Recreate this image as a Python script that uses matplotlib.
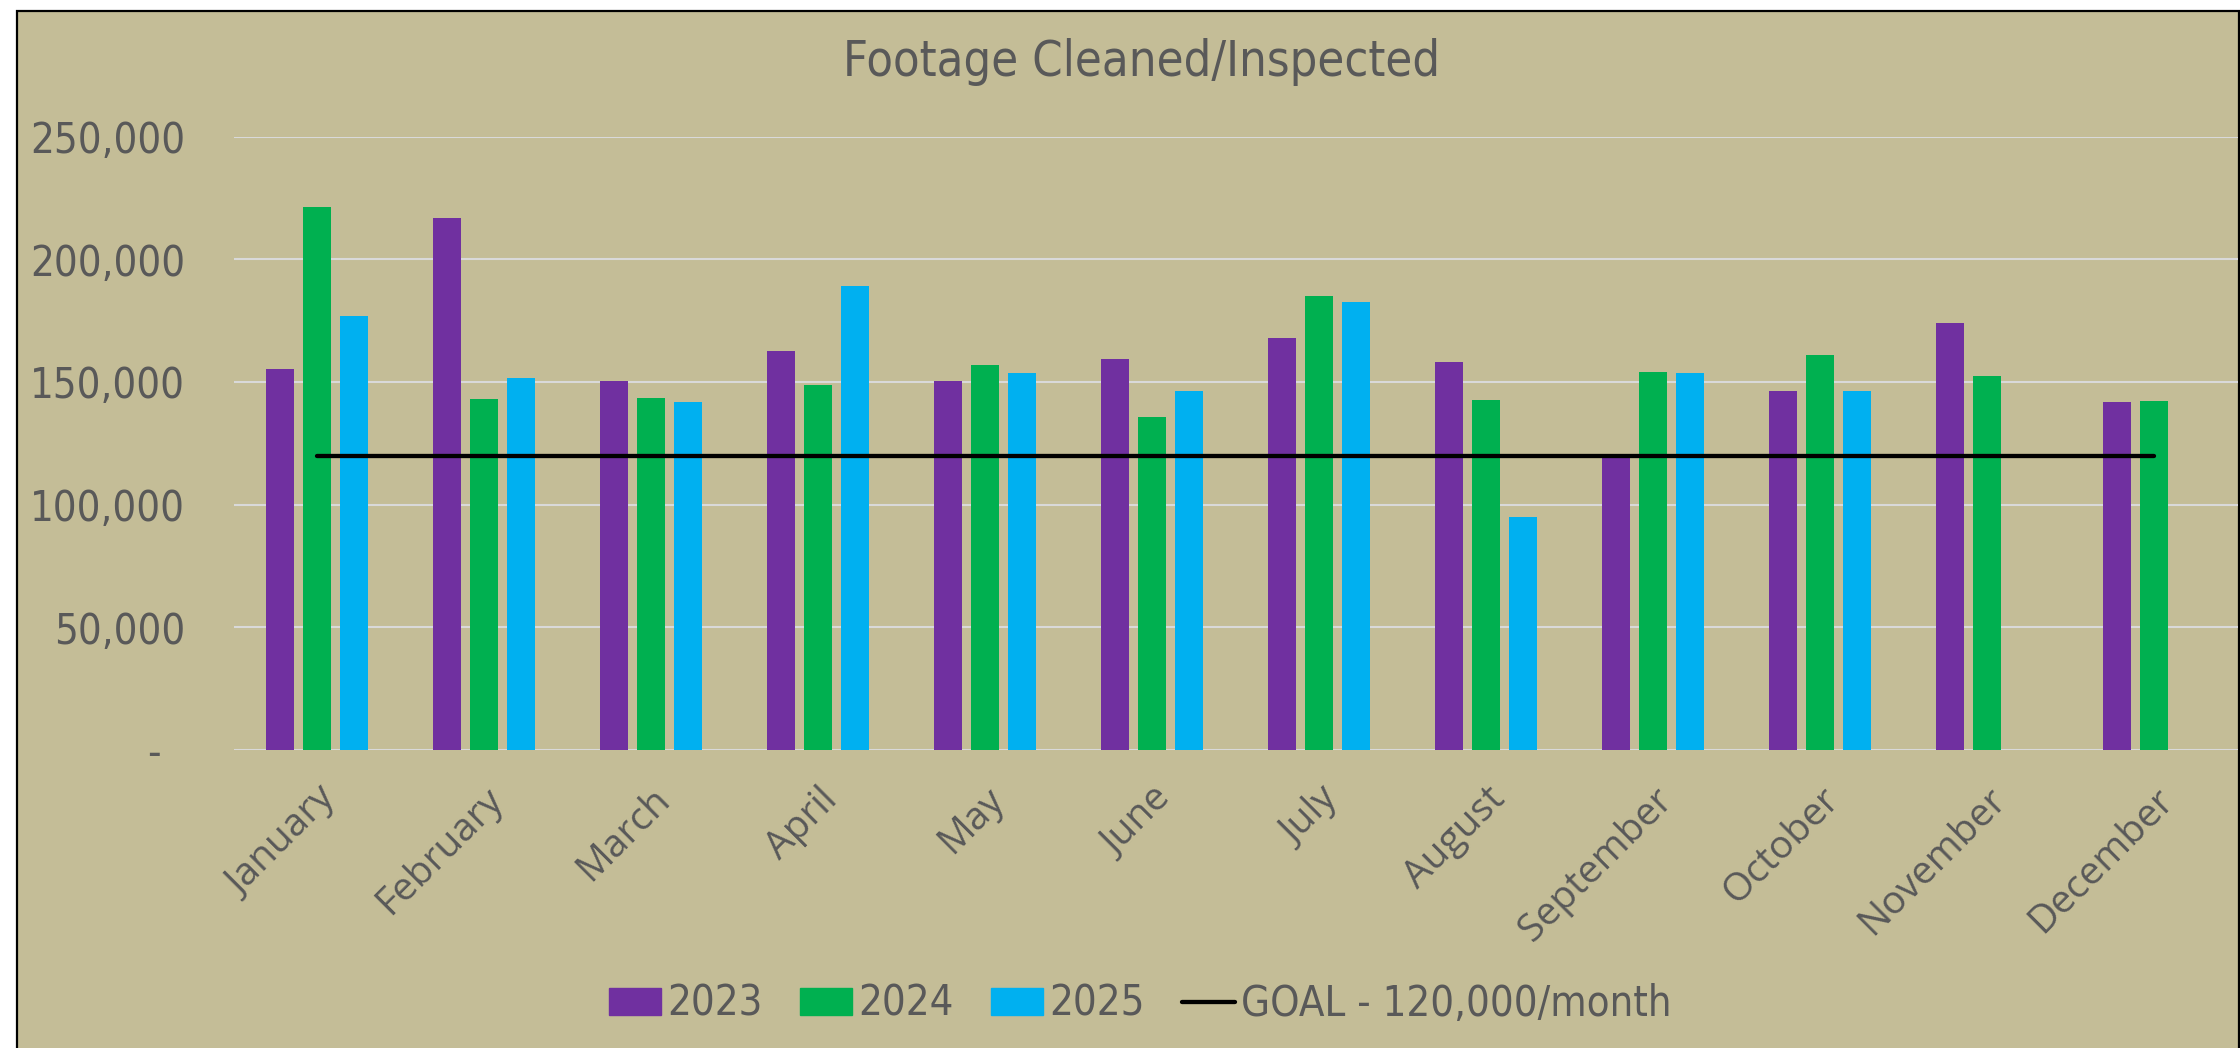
import numpy as np
import matplotlib.pyplot as plt
from matplotlib.patches import Rectangle
from matplotlib.lines import Line2D
from matplotlib.ticker import FuncFormatter

# 数据
months = ['January', 'February', 'March', 'April', 'May', 'June',
          'July', 'August', 'September', 'October', 'November', 'December']
y2023 = [155100, 216900, 150400, 162400, 150400, 159300, 167800, 158200, 120000, 146200, 173900, 141700]
y2024 = [221400, 142900, 143400, 148900, 157000, 135700, 184900, 142600, 154000, 160800, 152500, 142100]
y2025 = [177000, 151500, 141800, 189100, 153800, 146200, 182700, 95100, 153600, 146400, np.nan, np.nan]
goal = [120000, 120000, 120000, 120000, 120000, 120000, 120000, 120000, 120000, 120000, 120000, 120000]

tan = '#C4BD97'
grey = '#595959'
narrow = {'family': 'DejaVu Sans', 'stretch': 'condensed'}

fig = plt.figure(figsize=(22.4, 10.48), dpi=100, facecolor='white')
# 图表外框
fig.patches.append(Rectangle((17 / 2240, -0.1), (2239 - 17) / 2240, 1.1 - 11 / 1048,
                             transform=fig.transFigure, facecolor=tan,
                             edgecolor='black', linewidth=1.6, zorder=-5))

ax = fig.add_axes([233.5 / 2240, (1048 - 750) / 1048, (2237.5 - 233.5) / 2240, (750 - 136.5) / 1048])
ax.set_zorder(1)
ax.patch.set_alpha(0)

x = np.arange(len(months))
w = 0.17
ax.bar(x - 0.22, y2023, w, color='#7030A0', label='2023', zorder=2)
ax.bar(x, y2024, w, color='#00B050', label='2024', zorder=2)
ax.bar(x + 0.22, y2025, w, color='#00B0F0', label='2025', zorder=2)
ax.plot(x, goal, color='black', linewidth=3.1, solid_capstyle='round', zorder=3)

ax.set_xlim(-0.5, 11.5)
ax.set_ylim(0, 250000)
ax.set_yticks([0, 50000, 100000, 150000, 200000, 250000])
ax.yaxis.set_major_formatter(FuncFormatter(lambda v, p: '-  ' if v == 0 else f'{v:,.0f}'))
ax.grid(axis='y', color='#D9D9D9', linewidth=1.5, zorder=1)
ax.set_axisbelow(True)
for s in ax.spines.values():
    s.set_visible(False)

ax.tick_params(axis='y', length=0, pad=35, labelsize=30, labelcolor=grey)
ax.tick_params(axis='x', length=0, pad=22, labelsize=28, labelcolor=grey)
for lbl in ax.get_yticklabels():
    lbl.set_family(narrow['family'])
    lbl.set_stretch(narrow['stretch'])
ax.set_xticks(x)
ax.set_xticklabels(months, family=['Open Sans', 'DejaVu Sans'])
plt.setp(ax.get_xticklabels(), rotation=45, ha='right', va='top', rotation_mode='anchor')

fig.text(1142 / 2240, 1 - 62 / 1048, 'Footage Cleaned/Inspected', ha='center', va='center',
         fontsize=35, color=grey, **narrow)

handles = [Rectangle((0, 0), 1, 1, color='#7030A0'),
           Rectangle((0, 0), 1, 1, color='#00B050'),
           Rectangle((0, 0), 1, 1, color='#00B0F0'),
           Line2D([0], [0], color='black', linewidth=3.1, solid_capstyle='round')]
labels = ['2023', '2024', '2025', 'GOAL - 120,000/month']
leg = fig.legend(handles, labels, loc='center', bbox_to_anchor=(1140 / 2240, 44 / 1048), ncol=4,
                 frameon=False, handlelength=1.25, handleheight=0.6, handletextpad=0.15,
                 columnspacing=0.9, prop={**narrow, 'size': 30})
for t in leg.get_texts():
    t.set_color(grey)

plt.savefig('out.png', dpi=100, facecolor=fig.get_facecolor())
